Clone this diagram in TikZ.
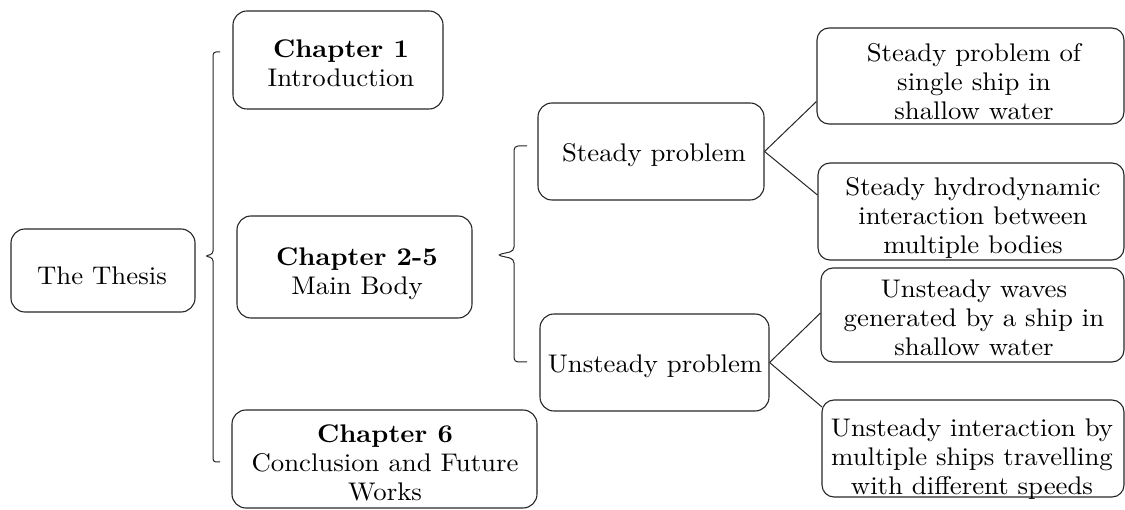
\documentclass[tikz,border=0pt]{standalone}
\usepackage{fontspec}
\setmainfont{lmroman10-regular.otf}[BoldFont=lmroman10-bold.otf, FakeStretch=1.05]
\tikzset{
  box/.style={draw=black!85, line width=1.1pt, rounded corners=14pt, inner sep=0pt},
  rbox/.style={box, rounded corners=12pt},
  txt/.style={align=center, font=\fontsize{25.5}{29}\selectfont, inner sep=0pt},
  link/.style={draw=black!85, line width=1pt},
  brace/.style={draw=black!85, line width=1pt, rounded corners=3pt},
}
\begin{document}
\begin{tikzpicture}[x=1pt,y=-1pt]
\useasboundingbox (0,0) rectangle (1125,510);
% boxes
\node[box, minimum width=184pt, minimum height=83pt] (thesis) at (103,270.5) {};
\node[box, minimum width=210pt, minimum height=98pt] (ch1) at (338,60) {};
\node[box, minimum width=235pt, minimum height=102pt] (ch25) at (354.5,267) {};
\node[box, minimum width=305pt, minimum height=98pt] (ch6) at (384.5,459) {};
\node[box, minimum width=226pt, minimum height=97pt] (steady) at (651,151.5) {};
\node[box, minimum width=229pt, minimum height=97pt] (unsteady) at (654.5,362.5) {};
\node[rbox, minimum width=307pt, minimum height=96pt] (s1) at (970.5,76) {};
\node[rbox, minimum width=306pt, minimum height=97pt] (s2) at (971,211.5) {};
\node[rbox, minimum width=303pt, minimum height=94pt] (u1) at (972.5,315) {};
\node[rbox, minimum width=302pt, minimum height=97pt] (u2) at (973,448.5) {};
% texts
\node[txt] (thesis-t) at (102,275.5) {The Thesis};
\node[txt] (ch1-t) at (341,63.7) {\textbf{Chapter 1}\\Introduction};
\node[txt] (ch25-t) at (357,274.1) {\textbf{Chapter 2-5}\\Main Body};
\node[txt] (ch6-t) at (385,463.2) {\textbf{Chapter 6}\\Conclusion and Future\\Works};
\node[txt] (steady-t) at (654,155.6) {Steady problem};
\node[txt] (unsteady-t) at (655,366.6) {Unsteady problem};
\node[txt] (s1-t) at (974,81.2) {Steady problem of\\single ship in\\shallow water};
\node[txt] (s2-t) at (973,217.6) {Steady hydrodynamic\\interaction between\\multiple bodies};
\node[txt] (u1-t) at (974,318.2) {Unsteady waves\\generated by a ship in\\shallow water};
\node[txt] (u2-t) at (972,459.6) {Unsteady interaction by\\multiple ships travelling\\with different speeds};
% brace 1
\coordinate (b1top) at (220,52);
\coordinate (b1mid) at (205,256);
\coordinate (b1bot) at (220,462);
\path[brace] (b1top) -- (213,52) -- (213,254) -- (b1mid) -- (213,258) -- (213,462) -- (b1bot);
% brace 2
\coordinate (b2top) at (527,146);
\coordinate (b2mid) at (497,255);
\coordinate (b2bot) at (527,362);
\path[brace, rounded corners=4pt] (b2top) -- (514,146) -- (514,251) -- (b2mid) -- (514,259) -- (514,362) -- (b2bot);
% connectors
\draw[link] (steady.east) -- ([yshift=-25.5pt]s1.west);
\draw[link] (steady.east) -- ([yshift=16.5pt]s2.west);
\draw[link] (unsteady.east) -- ([yshift=2pt]u1.west);
\draw[link] (unsteady.east) -- ([yshift=41.5pt,xshift=0.5pt]u2.west);
\end{tikzpicture}
\end{document}
